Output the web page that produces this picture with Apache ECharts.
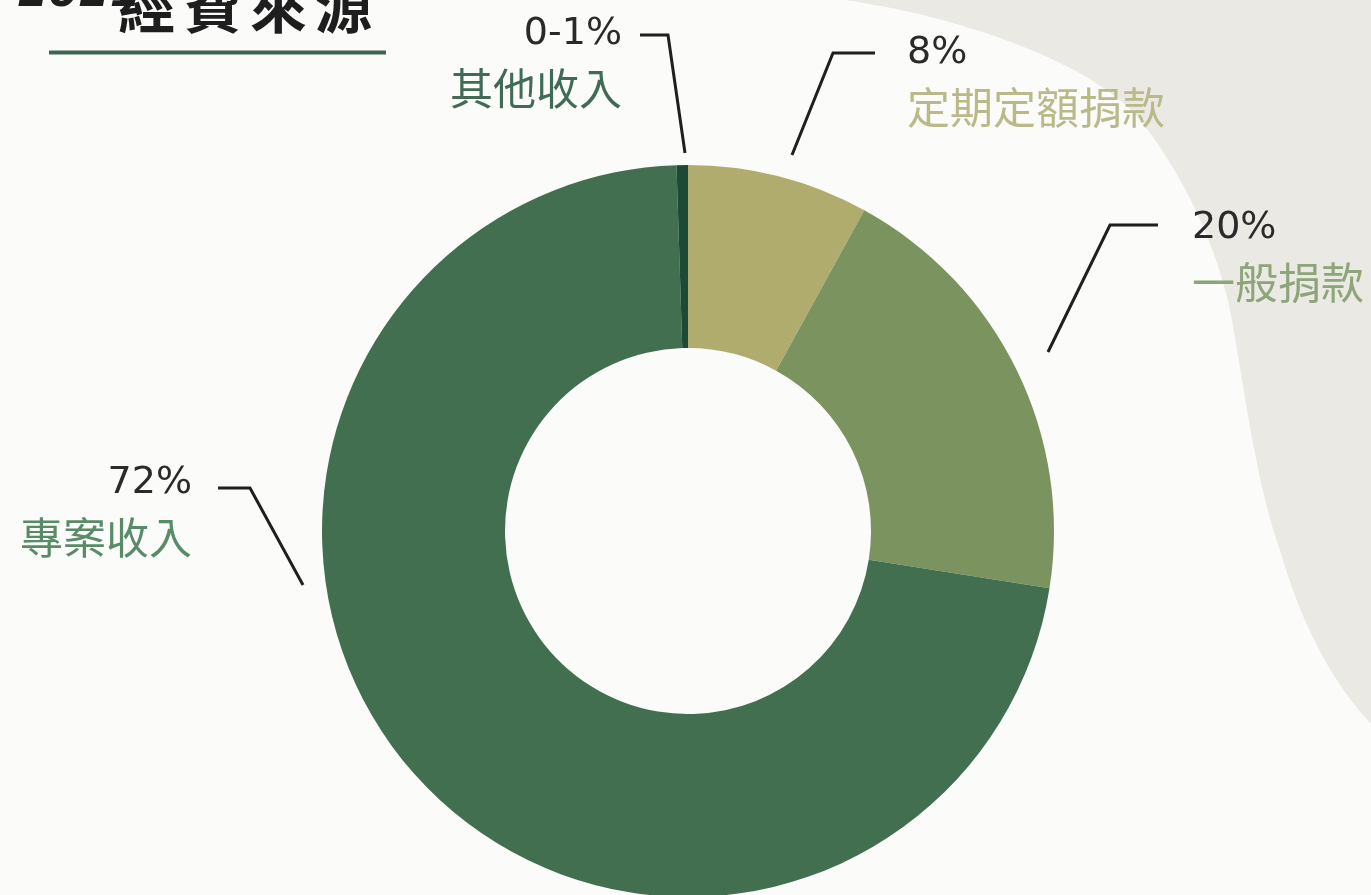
<!DOCTYPE html>
<html>
<head>
<meta charset="utf-8">
<script src="https://cdn.jsdelivr.net/npm/echarts@6/dist/echarts.min.js"></script>
<style>
html,body{margin:0;padding:0;background:#fbfbf9;}
#chart{width:1371px;height:895px;}
</style>
</head>
<body>
<div id="chart"></div>
<script>
// ---- data ----
var categories = ['定期定額捐款', '一般捐款', '專案收入', '其他收入'];
var values = [8, 19.5, 72, 0.5];
var valueLabels = ['8%', '20%', '72%', '0-1%'];

// ---- styles ----
var sliceColors = ['#b0ac6d', '#7a935f', '#426f50', '#1c4a35'];
var nameColors = ['#bab98a', '#8ea47a', '#598b69', '#3f6b57'];
var CX = 688, CY = 531;
// leader line points relative to pie centre: [start, elbow, end]
var leaders = [
  [[104, -376], [145, -478], [187, -478]],
  [[360, -179], [422, -306], [470, -306]],
  [[-385, 54], [-438, -43], [-470, -43]],
  [[-3, -378], [-20, -496], [-48, -496]]
];
var labelGap = [32, 34, 26, 18];
var numberShift = [0, 3, -5, -1];
var sides = ['L', 'L', 'R', 'R'];

// decorative background blob outline (cubic bezier segments)
var blobCurves = [
  [[845, 0], [980, 20], [1100, 70], [1140, 120]],
  [[1140, 120], [1180, 170], [1215, 240], [1230, 310]],
  [[1230, 310], [1245, 390], [1255, 480], [1280, 550]],
  [[1280, 550], [1300, 620], [1330, 680], [1371, 724]]
];
function blobPolygon() {
  var pts = [];
  blobCurves.forEach(function (c) {
    for (var k = 0; k <= 30; k++) {
      var t = k / 30, u = 1 - t;
      var a = u * u * u, b = 3 * u * u * t, cc = 3 * u * t * t, d = t * t * t;
      pts.push([a * c[0][0] + b * c[1][0] + cc * c[2][0] + d * c[3][0],
                a * c[0][1] + b * c[1][1] + cc * c[2][1] + d * c[3][1]]);
    }
  });
  pts.push([1371, 0]);
  return pts;
}

var chart = echarts.init(document.getElementById('chart'), null, {renderer: 'canvas'});

var numFont = '"DejaVu Sans", "Noto Sans", sans-serif';
var cjkFont = '"Noto Sans CJK TC", "Noto Sans CJK SC", sans-serif';

var data = categories.map(function (c, i) {
  return {name: c, value: values[i], itemStyle: {color: sliceColors[i]}};
});

var rich = {};
['L', 'R'].forEach(function (s) {
  rich['v' + s] = {fontFamily: numFont, fontSize: 38, color: '#2a2a2a', lineHeight: 55, align: s === 'L' ? 'left' : 'right'};
  for (var i = 0; i < 4; i++) {
    rich['n' + s + i] = {fontFamily: cjkFont, fontSize: 43, color: nameColors[i], lineHeight: 55, align: s === 'L' ? 'left' : 'right'};
  }
});

var titleFont = 'bold 57px "Noto Sans CJK TC", sans-serif';
var option = {
  backgroundColor: '#fbfbf9',
  animation: false,
  graphic: [
    {type: 'polygon', silent: true, z: -10, shape: {points: blobPolygon()}, style: {fill: '#ebe9e3'}},
    {type: 'text', silent: true, style: {text: '2021', x: 18, y: -27, fill: '#1e1e1e', font: 'italic bold 44px "DejaVu Sans", sans-serif', verticalAlign: 'top'}},
    {type: 'text', silent: true, style: {text: '經', x: 118, y: -22, fill: '#1e1e1e', font: titleFont, verticalAlign: 'top'}},
    {type: 'text', silent: true, style: {text: '費', x: 184, y: -22, fill: '#1e1e1e', font: titleFont, verticalAlign: 'top'}},
    {type: 'text', silent: true, style: {text: '來', x: 250, y: -22, fill: '#1e1e1e', font: titleFont, verticalAlign: 'top'}},
    {type: 'text', silent: true, style: {text: '源', x: 315, y: -22, fill: '#1e1e1e', font: titleFont, verticalAlign: 'top'}},
    {type: 'line', silent: true, shape: {x1: 49, y1: 52.5, x2: 386, y2: 52.5}, style: {stroke: '#3e6652', lineWidth: 4}}
  ],
  series: [{
    type: 'pie',
    silent: true,
    center: [CX, CY],
    radius: [183, 366],
    startAngle: 90,
    clockwise: true,
    avoidLabelOverlap: false,
    itemStyle: {borderWidth: 0},
    label: {
      show: true,
      position: 'outside',
      formatter: function (p) {
        var s = sides[p.dataIndex];
        return '{v' + s + '|' + valueLabels[p.dataIndex] + '}\n{n' + s + p.dataIndex + '|' + p.name + '}';
      },
      rich: rich
    },
    labelLine: {show: true, smooth: false, lineStyle: {color: '#1f1f1f', width: 3}},
    labelLayout: function (p) {
      var i = p.dataIndex;
      var pts = leaders[i].map(function (q) { return [CX + q[0], CY + q[1]]; });
      var end = pts[2];
      var left = sides[i] === 'L';
      return {
        x: left ? end[0] + labelGap[i] : end[0] - labelGap[i],
        y: end[1] + numberShift[i] - 27.5,
        align: left ? 'left' : 'right',
        verticalAlign: 'top',
        labelLinePoints: pts
      };
    },
    data: data
  }]
};
chart.setOption(option);
</script>
</body>
</html>
